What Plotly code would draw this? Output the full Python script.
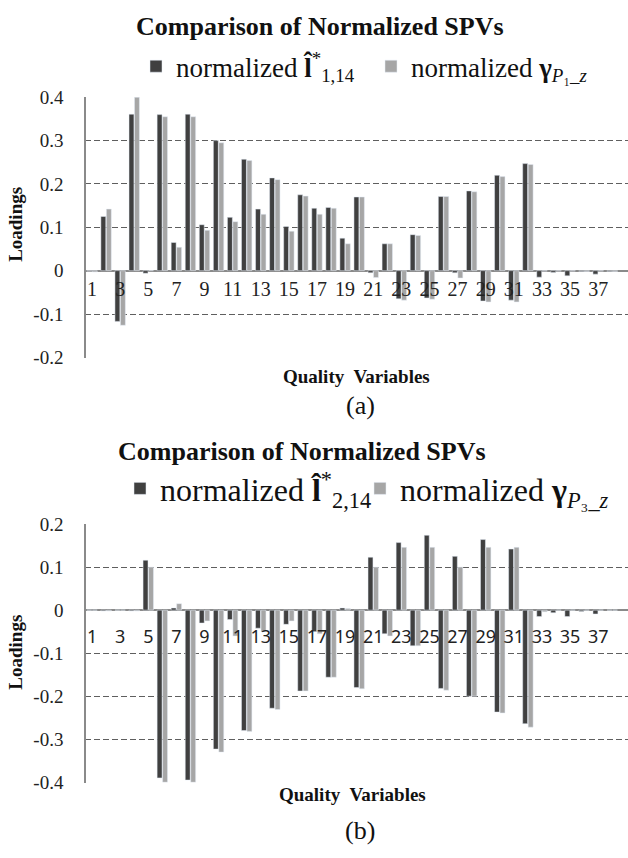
import plotly.graph_objects as go

# ---------------- data ----------------
variables = list(range(1, 39))

# (a) normalized l-hat*_{1,14} (dark) and normalized gamma_{P1_z} (light)
a_dark = [-0.001, 0.125, -0.117, 0.361, -0.006, 0.360, 0.065, 0.361, 0.106, 0.300,
          0.123, 0.257, 0.142, 0.214, 0.102, 0.175, 0.144, 0.146, 0.075, 0.170,
          -0.005, 0.062, -0.065, 0.083, -0.063, 0.171, -0.005, 0.184, -0.070, 0.220,
          -0.068, 0.247, -0.015, -0.004, -0.012, -0.002, -0.008, -0.002]
a_light = [-0.003, 0.142, -0.126, 0.400, 0.000, 0.355, 0.054, 0.355, 0.093, 0.295,
           0.113, 0.254, 0.130, 0.210, 0.091, 0.172, 0.130, 0.144, 0.062, 0.170,
           -0.016, 0.062, -0.068, 0.081, -0.066, 0.171, -0.017, 0.182, -0.072, 0.217,
           -0.072, 0.245, -0.001, -0.001, -0.001, -0.002, -0.001, -0.002]

# (b) normalized l-hat*_{2,14} (dark) and normalized gamma_{P3_z} (light)
b_dark = [0.000, -0.002, 0.000, -0.002, 0.116, -0.390, 0.005, -0.395, -0.030, -0.323,
          -0.022, -0.280, -0.042, -0.228, -0.033, -0.188, -0.050, -0.156, 0.005, -0.180,
          0.123, -0.055, 0.157, -0.083, 0.174, -0.182, 0.125, -0.200, 0.164, -0.237,
          0.142, -0.264, -0.015, -0.006, -0.015, -0.003, -0.009, 0.000]
b_light = [0.000, -0.002, 0.000, -0.002, 0.100, -0.400, 0.015, -0.400, -0.025, -0.330,
           -0.060, -0.282, -0.050, -0.231, -0.025, -0.188, -0.055, -0.156, 0.004, -0.183,
           0.100, -0.060, 0.146, -0.083, 0.146, -0.186, 0.100, -0.200, 0.146, -0.239,
           0.146, -0.272, -0.004, 0.000, 0.000, 0.000, 0.000, 0.000]

x_tickvals = list(range(1, 38, 2))
x_ticktext = [str(v) for v in x_tickvals]

a_yvals = [0.4, 0.3, 0.2, 0.1, 0.0, -0.1, -0.2]
a_ytext = ["0.4", "0.3", "0.2", "0.1", "0", "-0.1", "-0.2"]
b_yvals = [0.2, 0.1, 0.0, -0.1, -0.2, -0.3, -0.4]
b_ytext = ["0.2", "0.1", "0", "-0.1", "-0.2", "-0.3", "-0.4"]

title_text = "Comparison of Normalized SPVs"
a_names = ["normalized <b>l̂</b><sup>*</sup><sub>1,14</sub>",
           "normalized <b>γ</b><sub><i>P</i>₁_<i>z</i></sub>"]
b_names = ["normalized <b>l̂</b><sup>*</sup><sub>2,14</sub>",
           "normalized <b>γ</b><sub><i>P</i>₃_<i>z</i></sub>"]

# ---------------- layout helpers ----------------
W, H = 628, 858
DARK, LIGHT = "#404040", "#a6a6a6"
SERIF = "Liberation Serif"
SANS = "Noto Sans"
GRID = "#5f5f5f"
AXIS = "#8a8a8a"


def py(px):
    return 1 - px / H


def pxx(px):
    return px / W


x_dom = [pxx(85), 1.0]
x_rng = [0.5, 39.12]
a_dom = [py(356), py(89)]
b_dom = [py(791), py(526)]
pad = 0.0008
a_rng = [-0.2 - pad, 0.4 + pad]
b_rng = [-0.4 - pad, 0.2 + pad]


def zero_pos(dom, rng):
    return dom[0] + (0 - rng[0]) / (rng[1] - rng[0]) * (dom[1] - dom[0])


fig = go.Figure()
fig.add_trace(go.Bar(x=variables, y=a_dark, name=a_names[0], marker_color=DARK,
                     xaxis="x", yaxis="y", legend="legend"))
fig.add_trace(go.Bar(x=variables, y=a_light, name=a_names[1], marker_color=LIGHT,
                     xaxis="x", yaxis="y", legend="legend"))
fig.add_trace(go.Bar(x=variables, y=b_dark, name=b_names[0], marker_color=DARK,
                     xaxis="x2", yaxis="y2", legend="legend2"))
fig.add_trace(go.Bar(x=variables, y=b_light, name=b_names[1], marker_color=LIGHT,
                     xaxis="x2", yaxis="y2", legend="legend3"))

xcommon = dict(range=x_rng, domain=x_dom, tickmode="array", tickvals=x_tickvals,
               ticktext=x_ticktext, showgrid=False, zeroline=False, showline=False,
               ticks="", anchor="free")
ycommon = dict(tickmode="array", showgrid=True, gridcolor=GRID, griddash="6px,3px",
               gridwidth=1, zeroline=True, zerolinecolor=AXIS, zerolinewidth=1.5,
               showline=True, linecolor=AXIS, linewidth=1.5, ticks="",
               ticklabelstandoff=17, anchor="free", position=x_dom[0],
               tickfont=dict(family=SERIF, size=19, color="#222"))

leg_b = dict(orientation="h", xanchor="left", y=py(490), yanchor="middle",
             font=dict(family=SERIF, size=32, color="#111"),
             bgcolor="rgba(0,0,0,0)", itemclick=False)

fig.update_layout(
    width=W, height=H, margin=dict(l=0, r=0, t=0, b=0),
    font=dict(family=SERIF, color="#111"),
    paper_bgcolor="white", plot_bgcolor="white",
    barmode="group", bargap=0.22, bargroupgap=0.1,
    xaxis=dict(**xcommon, position=zero_pos(a_dom, a_rng), ticklabelstandoff=4,
               tickfont=dict(family=SERIF, size=20, color="#222")),
    yaxis=dict(**ycommon, domain=a_dom, range=a_rng, tickvals=a_yvals, ticktext=a_ytext),
    xaxis2=dict(**xcommon, position=zero_pos(b_dom, b_rng), ticklabelstandoff=14,
                tickfont=dict(family=SANS, size=18, color="#222")),
    yaxis2=dict(**ycommon, domain=b_dom, range=b_rng, tickvals=b_yvals, ticktext=b_ytext),
    legend=dict(orientation="h", x=pxx(136), xanchor="left", y=py(58), yanchor="middle",
                entrywidth=190, font=dict(family=SERIF, size=27, color="#111"),
                bgcolor="rgba(0,0,0,0)", itemclick=False),
    legend2=dict(**leg_b, x=pxx(120)),
    legend3=dict(**leg_b, x=pxx(360)),
    showlegend=True,
)

ann = []
for tx, ty in ((pxx(320), py(17)), (pxx(302), py(452))):
    ann.append(dict(text="<b>" + title_text + "</b>", x=tx, y=ty, xref="paper",
                    yref="paper", showarrow=False, xanchor="center", yanchor="middle",
                    font=dict(family=SERIF, size=26, color="#111")))
for cy in (py(220), py(658)):
    ann.append(dict(text="<b>Loadings</b>", x=pxx(16), y=cy, xref="paper", yref="paper",
                    showarrow=False, textangle=-90, xanchor="center", yanchor="middle",
                    font=dict(family=SERIF, size=19, color="#111")))
for cx, cy in ((pxx(356), py(375)), (pxx(352), py(803))):
    ann.append(dict(text="<b>Quality  Variables</b>", x=cx, y=cy, xref="paper",
                    yref="paper", showarrow=False, xanchor="center", yanchor="middle",
                    font=dict(family=SERIF, size=19, color="#111")))
for txt, cy in (("(a)", py(405)), ("(b)", py(840))):
    ann.append(dict(text=txt, x=pxx(360), y=cy, xref="paper", yref="paper",
                    showarrow=False, xanchor="center", yanchor="middle",
                    font=dict(family=SERIF, size=26, color="#111")))
fig.update_layout(annotations=ann)

fig.write_html("out.html", config={"displayModeBar": False},
               post_script="document.body.style.margin='0px';"
                           "document.body.style.overflow='hidden';")
